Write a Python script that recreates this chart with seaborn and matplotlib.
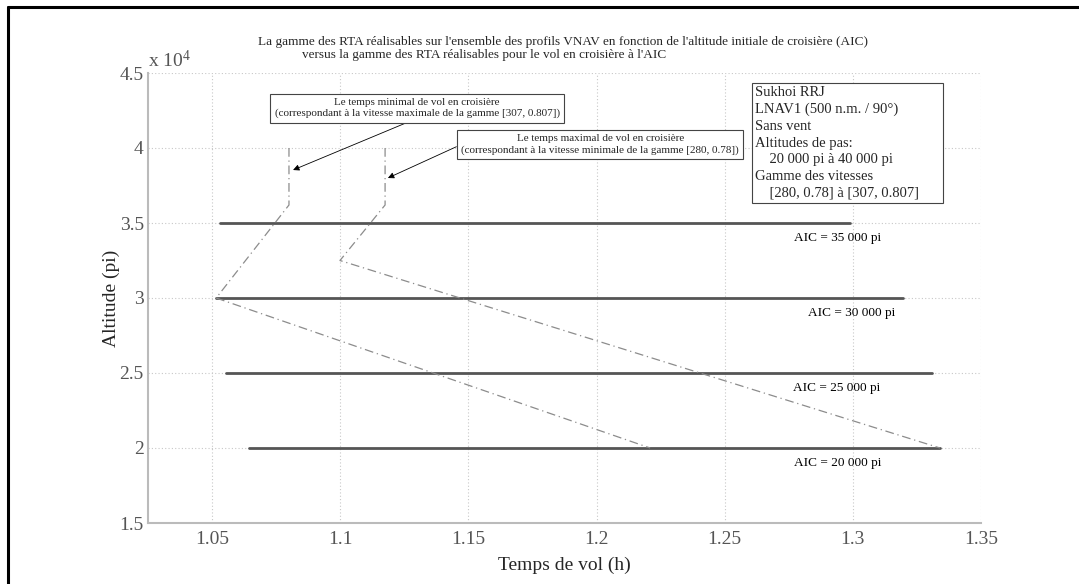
import matplotlib
matplotlib.use("Agg")
import matplotlib.pyplot as plt
import seaborn as sns
import pandas as pd
from matplotlib.lines import Line2D
from matplotlib.patches import Rectangle
from matplotlib.ticker import FuncFormatter

# ---------------- data ----------------
aic_levels = [35000, 30000, 25000, 20000]
aic_start = [1.0531, 1.0516, 1.0555, 1.0645]
aic_end = [1.2989, 1.3196, 1.3309, 1.3340]
aic_labels = ["AIC = 35 000 pi", "AIC = 30 000 pi", "AIC = 25 000 pi", "AIC = 20 000 pi"]

min_time = [1.0800, 1.0800, 1.0516, 1.2209]
min_alt = [40000, 36200, 30000, 20000]
max_time = [1.1175, 1.1175, 1.0999, 1.3340]
max_alt = [40000, 36200, 32500, 20000]

xticks = [1.05, 1.10, 1.15, 1.20, 1.25, 1.30, 1.35]
yticks = [15000, 20000, 25000, 30000, 35000, 40000, 45000]

title1 = "La gamme des RTA réalisables sur l'ensemble des profils VNAV en fonction de l'altitude initiale de croisière (AIC)"
title2 = "versus la gamme des RTA réalisables pour le vol en croisière à l'AIC"
note_min = "Le temps minimal de vol en croisière\n(correspondant à la vitesse maximale de la gamme [307, 0.807])"
note_max = "Le temps maximal de vol en croisière\n(correspondant à la vitesse minimale de la gamme [280, 0.78])"
info = ("Sukhoi RRJ\nLNAV1 (500 n.m. / 90°)\nSans vent\nAltitudes de pas:\n"
        "    20 000 pi à 40 000 pi\nGamme des vitesses\n    [280, 0.78] à [307, 0.807]")

# ---------------- style ----------------
sns.set_style("white")
plt.rcParams["font.family"] = ["Liberation Serif", "DejaVu Serif"]
plt.rcParams["mathtext.fontset"] = "custom"
plt.rcParams["mathtext.rm"] = "Liberation Serif"
plt.rcParams["mathtext.default"] = "regular"

W, H = 1079, 584
fig = plt.figure(figsize=(W / 100, H / 100), dpi=100)
L, R, T, B = 148, 981, 73, 523
ax = fig.add_axes([L / W, 1 - B / H, (R - L) / W, (B - T) / H])

# horizontal AIC lines
for lvl, x0, x1 in zip(aic_levels, aic_start, aic_end):
    d = pd.DataFrame({"t": [x0, x1], "alt": [lvl, lvl]})
    sns.lineplot(data=d, x="t", y="alt", ax=ax, color="#555555", lw=2.0,
                 sort=False, estimator=None, legend=False)

# dash-dot envelopes
for tt, aa in ((min_time, min_alt), (max_time, max_alt)):
    d = pd.DataFrame({"t": tt, "alt": aa})
    sns.lineplot(data=d, x="t", y="alt", ax=ax, color="#8c8c8c", lw=0.9,
                 dashes=False, linestyle=(0, (7, 3, 1, 3)), sort=False,
                 estimator=None, legend=False)

for lvl, lab, lx in zip(aic_levels, aic_labels, [1.2942, 1.2997, 1.2938, 1.2942]):
    ax.text(lx, lvl - 1000, lab, ha="center", va="center", fontsize=9.5, color="black")

ax.set_xlim(1.025, 1.35)
ax.set_ylim(15000, 45000)
ax.set_xticks(xticks)
ax.set_yticks(yticks)
ax.xaxis.set_major_formatter(FuncFormatter(lambda v, p: f"{v:g}"))
ax.yaxis.set_major_formatter(FuncFormatter(lambda v, p: f"{v/1e4:g}"))
ax.tick_params(axis="both", direction="in", length=5, width=0.8, color="#999999",
               labelsize=14, labelcolor="#555555")
ax.tick_params(axis="x", pad=6)
ax.tick_params(axis="y", pad=3)
ax.grid(True, linestyle=(0, (1, 2)), color="#c8c8c8", lw=0.8)
for s in ("top", "right"):
    ax.spines[s].set_visible(False)
for s in ("left", "bottom"):
    ax.spines[s].set_color("#bbbbbb")
    ax.spines[s].set_linewidth(1.5)

ax.set_xlabel("Temps de vol (h)", fontsize=14, labelpad=6)
ax.set_ylabel("Altitude (pi)", fontsize=14, labelpad=0)

ax.text(0.0, 1.005, r"x 10$^{4}$", transform=ax.transAxes, ha="left", va="bottom",
        fontsize=14, color="#555555")

# titles
fig.text(563 / W, 1 - 45 / H, title1, ha="center", va="baseline", fontsize=9.5)
fig.text(302 / W, 1 - 58 / H, title2, ha="left", va="baseline", fontsize=9.5)

# annotations
box = dict(boxstyle="square,pad=0.4", fc="white", ec="#444444", lw=0.8)
ax.annotate(note_min, xy=(1.0816, 38533), xytext=(1.1300, 42650), textcoords="data",
            ha="center", va="center", fontsize=8, bbox=box,
            arrowprops=dict(arrowstyle="-|>", color="black", lw=0.6, mutation_scale=9,
                            relpos=(0.5, 0.0), shrinkA=0, shrinkB=0))
ax.annotate(note_max, xy=(1.1186, 38000), xytext=(1.2014, 40233), textcoords="data",
            ha="center", va="center", fontsize=8, bbox=box,
            arrowprops=dict(arrowstyle="-|>", color="black", lw=0.6, mutation_scale=9,
                            relpos=(0.0, 0.5), shrinkA=0, shrinkB=0))

# info box
x0f, x1f = (752 - L) / (R - L), (943 - L) / (R - L)
y0f, y1f = (B - 203) / (B - T), (B - 83) / (B - T)
ax.add_patch(Rectangle((x0f, y0f), x1f - x0f, y1f - y0f, transform=ax.transAxes,
                       fc="white", ec="#444444", lw=0.8, zorder=5))
ax.text((755 - L) / (R - L), (B - 86) / (B - T), info, transform=ax.transAxes,
        ha="left", va="top", fontsize=10.5, linespacing=1.37, zorder=6)

# figure frame (left and top)
fig.add_artist(Line2D([8 / W, 8 / W], [0, 1 - 7 / H], color="black", lw=2.2,
                      transform=fig.transFigure))
fig.add_artist(Line2D([8 / W, 1], [1 - 7 / H, 1 - 7 / H], color="black", lw=2.2,
                      transform=fig.transFigure))

fig.savefig("out.png", dpi=100)
